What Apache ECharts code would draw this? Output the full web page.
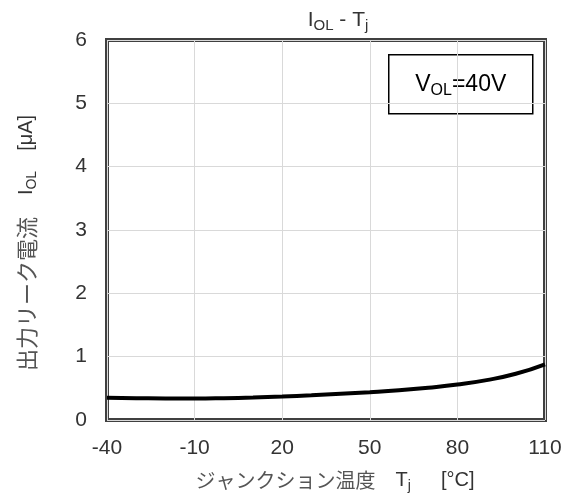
<!DOCTYPE html>
<html><head><meta charset="utf-8">
<script src="https://cdn.jsdelivr.net/npm/echarts@6/dist/echarts.min.js"></script>
<style>html,body{margin:0;padding:0;background:#fff}#c{width:580px;height:499px}</style>
</head><body><div id="c"></div>
<script>
const temps = [-40,-30,-20,-10,0,10,20,30,40,50,60,70,80,90,100,110];
const iol = [0.35,0.345,0.34,0.34,0.345,0.355,0.37,0.39,0.415,0.44,0.47,0.51,0.56,0.63,0.73,0.88];
const xTicks = [-40,-10,20,50,80,110];
const yTicks = [0,1,2,3,4,5,6];

const FONT = '"Liberation Sans", Arial, "Noto Sans CJK JP", sans-serif';
const JP = '"Noto Sans CJK JP"';
const C = '#333333';
const CJ = '#555555';
const chart = echarts.init(document.getElementById('c'));
chart.setOption({
  animation:false,
  textStyle:{fontFamily:FONT},
  title:{
    text:'{m|I}{s|OL}{m| - T}{s|j}',
    left:333, top:2, textAlign:'center',
    textStyle:{fontWeight:'normal',rich:{
      m:{fontSize:21,color:C,fontFamily:FONT,fontWeight:'normal'},
      s:{fontSize:15,color:C,fontFamily:FONT,fontWeight:'normal',verticalAlign:'bottom',padding:[11,0,0,0]}
    }}
  },
  grid:{left:107,right:35,top:40,bottom:79,show:true,borderColor:'#404040',borderWidth:4,backgroundColor:'transparent'},
  xAxis:{
    type:'value',min:-40,max:110,interval:30,
    axisLine:{show:false},axisTick:{show:false},
    splitLine:{show:true,lineStyle:{color:'#d9d9d9',width:1}},
    axisLabel:{fontSize:21,color:C,margin:18,fontFamily:FONT},
    name:'{j|ジャンクション温度　}{m|T}{s|j}{b|[°C]}',
    nameLocation:'middle',nameGap:48,
    nameTextStyle:{padding:[0,0,0,18],rich:{
      j:{fontSize:20,color:CJ,fontFamily:JP},
      m:{fontSize:20,color:C,fontFamily:FONT},
      b:{fontSize:20,color:C,fontFamily:FONT,padding:[0,0,0,30]},
      s:{fontSize:14,color:C,fontFamily:FONT,verticalAlign:'bottom',padding:[11,0,0,0]}
    }}
  },
  yAxis:{
    type:'value',min:0,max:6,interval:1,
    axisLine:{show:false},axisTick:{show:false},
    splitLine:{show:true,lineStyle:{color:'#d9d9d9',width:1}},
    axisLabel:{fontSize:21,color:C,margin:20,fontFamily:FONT},
    name:'{j|出力リーク電流　}{m|I}{s|OL}{b|[μA]}',
    nameLocation:'middle',nameGap:68,nameRotate:90,
    nameTextStyle:{padding:[0,26,0,0],rich:{
      j:{fontSize:22,color:CJ,fontFamily:JP},
      m:{fontSize:20,color:C,fontFamily:FONT},
      b:{fontSize:20,color:C,fontFamily:FONT,padding:[0,0,0,20]},
      s:{fontSize:14,color:C,fontFamily:FONT,verticalAlign:'bottom',padding:[11,0,0,0]}
    }}
  },
  graphic:[{
    type:'group',left:388,top:54,children:[
      {type:'rect',shape:{x:0,y:0,width:144,height:59},style:{fill:'#fff',stroke:'#000',lineWidth:1.5}},
      {type:'text',x:72,y:30,style:{
        text:'{m|V}{s|OL}{m|=40V}',align:'center',verticalAlign:'middle',
        rich:{
          m:{fontSize:23,fill:'#000',fontFamily:FONT},
          s:{fontSize:16,fill:'#000',fontFamily:FONT,verticalAlign:'bottom',padding:[12,0,0,0]}
        }
      }}
    ]
  }],
  series:[{
    type:'line',data:temps.map((t,i)=>[t,iol[i]]),smooth:true,showSymbol:false,
    lineStyle:{color:'#000',width:4},clip:true
  }]
});
</script></body></html>
